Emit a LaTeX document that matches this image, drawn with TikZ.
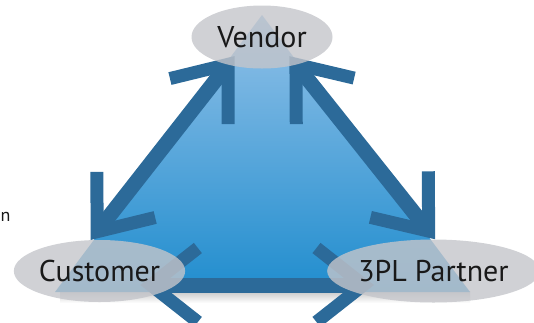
\documentclass[tikz,border=0pt]{standalone}
\usepackage{fontspec}
\setmainfont{PT Sans}
\usetikzlibrary{positioning,arrows.meta,shapes.geometric}

\definecolor{arrowblue}{RGB}{44,106,153}
\definecolor{topblue}{RGB}{146,193,232}
\definecolor{botblue}{RGB}{32,141,206}
\definecolor{ovalgray}{RGB}{196,197,202}

\pgfdeclarelayer{bg}
\pgfsetlayers{bg,main}

\begin{document}
\begin{tikzpicture}[x=1pt, y=-1pt,
  party/.style={ellipse, fill=ovalgray, fill opacity=0.8, text opacity=1, text=black!90, inner sep=0pt, font=\fontsize{30}{31}\selectfont},
  barb/.tip={Straight Barb[length=47pt, width=74pt, line width=13pt]},
  link/.style={draw=arrowblue, line width=15pt, barb-barb}
]
\useasboundingbox (0,0) rectangle (534,322);

\node[party, minimum width=141pt, minimum height=63pt] (vendor) at (262,37) {Vendor};
\node[party, minimum width=167pt, minimum height=62pt] (customer) at (99.5,271) {Customer};
\node[party, minimum width=187pt, minimum height=63pt] (partner) at (433.5,271) {3PL Partner};
\node[anchor=base west, inner sep=0pt, text=black!90, font=\fontsize{18}{20}\selectfont] (cut) at (0.5,221) {n};

\begin{pgfonlayer}{bg}
\shade[top color=black!22, bottom color=white] (60,291) rectangle (470,303);
\shade[top color=topblue, bottom color=botblue] (262,15) -- (55,292) -- (470,292) -- cycle;
\draw[link, shorten >=-11pt] (customer.106) -- (vendor.219);
\draw[link, shorten >=-11pt] (partner.87) -- (vendor.-39);
\draw[link, shorten <=-45pt, shorten >=-47pt] ([yshift=-14pt]customer.east) -- ([yshift=-14pt]partner.west);
\end{pgfonlayer}

\end{tikzpicture}
\end{document}
